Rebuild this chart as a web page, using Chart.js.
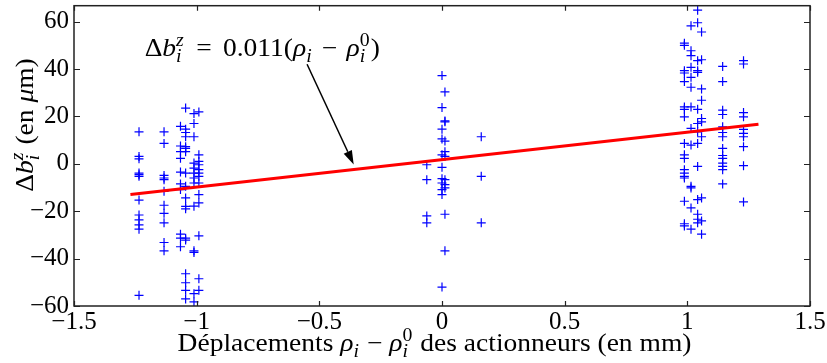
<!DOCTYPE html>
<html>
<head>
<meta charset="utf-8">
<script src="https://cdn.jsdelivr.net/npm/chart.js@4/dist/chart.umd.min.js"></script>
<style>
  html, body { margin: 0; padding: 0; background: #fff; }
</style>
</head>
<body>
<canvas id="chart" width="827" height="363"></canvas>
<script>
// measured columns: x position of each column and the y values read in it
const columnX = [-1.235, -1.133, -1.066, -1.045, -1.011, -0.991, -0.062, 0.0, 0.012, 0.16, 0.988, 1.015, 1.042, 1.058, 1.144, 1.229];
const columnY = [
    [13.5, 3.1, 2.1, -3.9, -4.6, -5.3, -15.3, -21.6, -23.7, -25.8, -27.6, -55.5],
    [13.5, 8.6, -4.9, -6.0, -6.7, -11.6, -17.5, -20.9, -24.9, -33.2, -36.7],
    [15.8, 7.5, 5.1, 2.3, -3.5, -8.5, -10.9, -29.7, -31.4, -35.0],
    [23.5, 14.6, 13.2, 11.4, 7.2, 6.5, 5.1, -3.9, -9.5, -14.4, -18.0, -19.0, -31.4, -32.2, -46.4, -50.2, -53.4, -57.0],
    [21.2, 17.0, 11.4, 0.3, -1.8, -3.9, -6.0, -8.1, -17.9, -36.7, -37.4, -54.8, -58.3],
    [21.9, 3.8, 1.0, -0.4, -2.5, -3.9, -5.3, -8.1, -13.0, -16.5, -30.4, -48.5, -53.4],
    [-0.4, -6.7, -22.0, -24.9],
    [37.2, 23.7, 14.6, 10.5, 3.8, -1.5, -6.3, -8.1, -10.9, -13.0, -52.0],
    [30.3, 18.1, 17.7, 9.6, 5.1, 3.1, -6.7, -8.8, -10.2, -21.3, -36.7],
    [11.4, -5.3, -24.9],
    [50.9, 50.0, 39.3, 38.3, 34.7, 24.0, 23.0, 19.8, 8.6, 3.8, 2.3, -2.5, -3.9, -5.3, -6.0, -15.8, -25.3, -26.2],
    [58.2, 47.7, 45.6, 40.7, 36.5, 32.3, 24.0, 14.9, 7.9, -9.5, -10.2, -18.6, -27.6],
    [64.8, 59.5, 43.5, 39.3, 38.6, 23.0, 17.0, 13.5, 8.6, -1.1, -15.1, -21.3, -23.4, -24.9],
    [55.6, 43.9, 31.6, 26.8, 19.1, 17.7, 11.4, -14.4, -24.1, -29.7],
    [41.1, 34.7, 22.6, 20.8, 15.6, 13.2, 11.4, 6.5, 3.5, 2.3, 0.3, -1.1, -2.5, -8.5],
    [43.5, 42.1, 21.6, 19.8, 14.5, 12.8, 11.4, 7.2, -0.8, -16.1]
];

// fitted line  (slope 0.011 um/um = 11 um/mm)
const fitX = [-1.27, 1.29];
const fitY = [-13.0, 16.7];

const xTicks = [-1.5, -1, -0.5, 0, 0.5, 1, 1.5];
const yTicks = [-60, -40, -20, 0, 20, 40, 60];

// annotation (data coordinates)
const labelAt = [-1.212, 45.3];
const arrowTail = [-0.55, 42];
const arrowTip = [-0.36, -0.3];

const SERIF = "'Liberation Serif', 'Times New Roman', serif";
const fontOf = (size, italic) => (italic ? 'italic ' : '') + size + 'px ' + SERIF;
const TEXT_SIZE = 25;
const STRETCH = 1.1;

const points = [];
columnX.forEach((x, i) => columnY[i].forEach(y => points.push({ x, y })));

const minus = v => String(v).replace('-', '\u2212');

// text with sub/superscripts, drawn at (0,0)
const drawRich = (ctx, parts, size, measureOnly) => {
    let cx = 0;
    for (const p of parts) {
        if (p.gap !== undefined) {
            cx += p.gap;
        } else if (p.t !== undefined) {
            ctx.font = fontOf(size, p.it);
            if (!measureOnly) ctx.fillText(p.t, cx, 0);
            cx += ctx.measureText(p.t).width;
        } else {
            const s = Math.round(size * 0.7);
            let w = 0;
            if (p.sup) {
                ctx.font = fontOf(s, p.sup.it);
                if (!measureOnly) ctx.fillText(p.sup.t, cx, -size * 0.4);
                w = Math.max(w, ctx.measureText(p.sup.t).width);
            }
            if (p.sub) {
                ctx.font = fontOf(s, p.sub.it);
                if (!measureOnly) ctx.fillText(p.sub.t, cx, size * 0.22);
                w = Math.max(w, ctx.measureText(p.sub.t).width);
            }
            cx += w + 1;
        }
    }
    return cx;
};

// draws stretched rich text, x is the left end (align 'left') or centre (align 'center')
const placeRich = (ctx, parts, x, y, align) => {
    const w = drawRich(ctx, parts, TEXT_SIZE, true) * STRETCH;
    ctx.save();
    ctx.translate(align === 'center' ? x - w / 2 : x, y);
    ctx.scale(STRETCH, 1);
    drawRich(ctx, parts, TEXT_SIZE);
    ctx.restore();
};

const iSub = { t: 'i', it: true };
const annotationParts = [
    { t: '\u0394' }, { t: 'b', it: true }, { sup: { t: 'z', it: true }, sub: iSub },
    { gap: 4 }, { t: ' = ' }, { gap: 4 }, { t: '0.011(' }, { t: '\u03c1', it: true }, { sub: iSub },
    { gap: 2 }, { t: ' \u2212 ' }, { gap: 2 },
    { t: '\u03c1', it: true }, { sup: { t: '0' }, sub: iSub }, { t: ')' }
];
const yTitleParts = [
    { t: '\u0394' }, { t: 'b', it: true }, { sup: { t: 'z', it: true }, sub: iSub },
    { t: ' (en ' }, { t: '\u03bc', it: true }, { t: 'm)' }
];
const xTitleParts = [
    { t: 'D\u00e9placements ' }, { t: '\u03c1', it: true }, { sub: iSub }, { t: ' \u2212 ' },
    { t: '\u03c1', it: true }, { sup: { t: '0' }, sub: iSub }, { t: ' des actionneurs (en mm)' }
];

const decorations = {
    id: 'decorations',
    afterDraw(chart) {
        const { ctx, chartArea: a, scales: { x: xs, y: ys } } = chart;
        ctx.save();
        ctx.fillStyle = '#000';
        ctx.textBaseline = 'alphabetic';
        ctx.textAlign = 'left';

        // frame and inward ticks
        ctx.strokeStyle = '#222';
        ctx.lineWidth = 1.5;
        ctx.strokeRect(a.left, a.top, a.right - a.left, a.bottom - a.top);
        ctx.lineWidth = 1.2;
        ctx.beginPath();
        xTicks.forEach(v => {
            const px = Math.round(xs.getPixelForValue(v)) + 0.5;
            ctx.moveTo(px, a.bottom); ctx.lineTo(px, a.bottom - 5);
            ctx.moveTo(px, a.top); ctx.lineTo(px, a.top + 5);
        });
        yTicks.forEach(v => {
            const py = Math.round(ys.getPixelForValue(v)) + 0.5;
            ctx.moveTo(a.left, py); ctx.lineTo(a.left + 6, py);
            ctx.moveTo(a.right, py); ctx.lineTo(a.right - 6, py);
        });
        ctx.stroke();

        // arrow
        const x0 = xs.getPixelForValue(arrowTail[0]), y0 = ys.getPixelForValue(arrowTail[1]);
        const x1 = xs.getPixelForValue(arrowTip[0]), y1 = ys.getPixelForValue(arrowTip[1]);
        const ang = Math.atan2(y1 - y0, x1 - x0);
        const head = 14, half = 4.5;
        const bx = x1 - head * Math.cos(ang), by = y1 - head * Math.sin(ang);
        ctx.strokeStyle = '#000';
        ctx.lineWidth = 1.5;
        ctx.beginPath();
        ctx.moveTo(x0, y0); ctx.lineTo(bx, by);
        ctx.stroke();
        ctx.beginPath();
        ctx.moveTo(x1, y1);
        ctx.lineTo(bx + half * Math.sin(ang), by - half * Math.cos(ang));
        ctx.lineTo(bx - half * Math.sin(ang), by + half * Math.cos(ang));
        ctx.closePath();
        ctx.fill();

        // annotation text
        placeRich(ctx, annotationParts, xs.getPixelForValue(labelAt[0]), ys.getPixelForValue(labelAt[1]), 'left');

        // x axis title
        placeRich(ctx, xTitleParts, 434.5, 351, 'center');

        // y axis title
        ctx.translate(33, 125);
        ctx.rotate(-Math.PI / 2);
        placeRich(ctx, yTitleParts, 0, 0, 'center');
        ctx.restore();
    }
};

new Chart(document.getElementById('chart').getContext('2d'), {
    type: 'scatter',
    data: {
        datasets: [{
            data: fitX.map((x, i) => ({ x, y: fitY[i] })),
            showLine: true,
            borderColor: '#ff0000',
            borderWidth: 3,
            pointRadius: 0,
            order: 0
        }, {
            data: points,
            pointStyle: 'cross',
            pointRadius: 4.5,
            borderColor: '#0000ff',
            backgroundColor: '#0000ff',
            borderWidth: 1.2,
            order: 1
        }]
    },
    options: {
        responsive: false,
        devicePixelRatio: 1,
        animation: false,
        layout: { padding: { top: 3, right: 17, left: 0, bottom: 0 } },
        plugins: { legend: { display: false }, tooltip: { enabled: false } },
        scales: {
            x: {
                type: 'linear',
                min: -1.5,
                max: 1.5,
                grid: { display: false, drawTicks: false },
                border: { display: false },
                afterBuildTicks: s => { s.ticks = xTicks.map(value => ({ value })); },
                afterFit: s => { s.height = 57; s.paddingLeft = 0; s.paddingRight = 0; },
                ticks: {
                    autoSkip: false,
                    maxRotation: 0,
                    padding: 1,
                    color: '#000',
                    font: { family: SERIF, size: 25 },
                    callback: v => minus(v)
                }
            },
            y: {
                min: -60,
                max: 66.7,
                grid: { display: false, drawTicks: false },
                border: { display: false },
                afterBuildTicks: s => { s.ticks = yTicks.map(value => ({ value })); },
                afterFit: s => { s.width = 74; s.paddingTop = 0; s.paddingBottom = 0; },
                ticks: {
                    padding: 5,
                    color: '#000',
                    font: { family: SERIF, size: 25 },
                    callback: v => minus(v)
                }
            }
        }
    },
    plugins: [decorations]
});
</script>
</body>
</html>
